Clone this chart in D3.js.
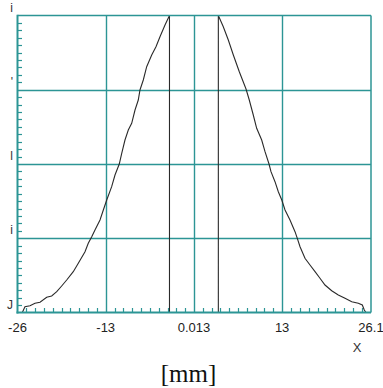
<!DOCTYPE html>
<html><head><meta charset="utf-8">
<script src="https://cdn.jsdelivr.net/npm/d3@7"></script>
<style>html,body{margin:0;padding:0;background:#fff;}svg{display:block;}</style>
</head><body>
<script>
// ---- data ----
const leftX = [-26, -25.29, -24.9, -24.16, -23.42, -22.68, -21.7, -20.96, -20.22, -19.49, -18.75, -17.78, -17.04, -16.05, -15.57, -15.06, -14.58, -13.84, -13.35, -12.85, -12.12, -11.63, -11.0, -10.64, -10.16, -9.67, -9.17, -8.68, -8.2, -7.95, -7.46, -6.96, -6.22, -5.59, -5.0, -4.26, -3.6, -3.6];
const leftY = [0, 0, 0.0195, 0.0229, 0.031, 0.0343, 0.0512, 0.0556, 0.070, 0.0892, 0.1094, 0.1374, 0.1657, 0.2047, 0.233, 0.2552, 0.2778, 0.3114, 0.3451, 0.3788, 0.4236, 0.463, 0.5, 0.536, 0.5808, 0.6145, 0.637, 0.6818, 0.7155, 0.7492, 0.7828, 0.8276, 0.867, 0.895, 0.9286, 0.968, 1.0, 0];
const rightX = [3.6, 3.6, 4.33, 5.07, 5.81, 6.69, 7.68, 8.16, 8.75, 9.25, 9.99, 10.48, 11.07, 11.36, 11.95, 12.44, 12.95, 13.43, 14.16, 14.9, 15.24, 15.64, 16.37, 17.11, 17.85, 18.58, 19.32, 20.31, 21.28, 22.27, 23.26, 24.23, 24.82, 25.11, 25.36, 26.1];
const rightY = [0, 1.0, 0.9623, 0.9175, 0.867, 0.8108, 0.7525, 0.7155, 0.665, 0.6202, 0.5808, 0.5414, 0.5, 0.4741, 0.4404, 0.4067, 0.3788, 0.3451, 0.3114, 0.2721, 0.2498, 0.2215, 0.1825, 0.16, 0.1374, 0.1152, 0.0926, 0.0734, 0.0589, 0.0478, 0.0364, 0.031, 0.0253, 0.0084, 0, 0];
const xTicks = [-26, -13, 0.013, 13, 26.1];
const xTickLabels = ["-26", "-13", "0.013", "13", "26.1"];
const yTicks = [0, 0.25, 0.5, 0.75, 1];
const yTickLabels = ["J", "i", "l", "'", "i"];
const xAxisTitle = "X";
const unitLabel = "[mm]";

// ---- layout ----
const W = 383, H = 388;
const teal = "#2c9595";
const svg = d3.select("body").append("svg").attr("width", W).attr("height", H);
const x = d3.scaleLinear().domain([-26, 26.1]).range([17.5, 371]);
const y = d3.scaleLinear().domain([0, 1]).range([312.5, 15.5]);

// grid
const g = svg.append("g");
g.selectAll("line.vg").data(xTicks.slice(1, -1)).join("line")
  .attr("x1", d => Math.round(x(d)) + 0.5).attr("x2", d => Math.round(x(d)) + 0.5)
  .attr("y1", y(1)).attr("y2", y(0)).attr("stroke", teal).attr("stroke-width", 1.4);
g.selectAll("line.hg").data(yTicks.slice(1, -1)).join("line")
  .attr("x1", x(-26)).attr("x2", x(26.1))
  .attr("y1", d => Math.round(y(d)) + 0.5).attr("y2", d => Math.round(y(d)) + 0.5)
  .attr("stroke", teal).attr("stroke-width", 1.4);

// minor ticks
const xMinor = [];
for (let i = 0; i < xTicks.length - 1; i++) for (let k = 1; k < 10; k++) xMinor.push(xTicks[i] + (xTicks[i + 1] - xTicks[i]) * k / 10);
g.selectAll("line.xm").data(xMinor).join("line")
  .attr("x1", d => Math.round(x(d)) + 0.5).attr("x2", d => Math.round(x(d)) + 0.5)
  .attr("y1", y(0)).attr("y2", y(0) - 4.5).attr("stroke", teal).attr("stroke-width", 1.2);
const yMinor = [];
for (let i = 0; i < yTicks.length - 1; i++) for (let k = 1; k < 10; k++) yMinor.push(yTicks[i] + (yTicks[i + 1] - yTicks[i]) * k / 10);
g.selectAll("line.ym").data(yMinor).join("line")
  .attr("x1", x(-26)).attr("x2", x(-26) + 4.5)
  .attr("y1", d => Math.round(y(d)) + 0.5).attr("y2", d => Math.round(y(d)) + 0.5)
  .attr("stroke", teal).attr("stroke-width", 1.2);

// curve
const line = d3.line().x(d => x(d[0])).y(d => y(d[1]));
svg.append("path").datum(leftX.map((v, i) => [v, leftY[i]]))
  .attr("d", line).attr("fill", "none").attr("stroke", "#2a2a2a").attr("stroke-width", 1.1);
svg.append("path").datum(rightX.map((v, i) => [v, rightY[i]]))
  .attr("d", line).attr("fill", "none").attr("stroke", "#2a2a2a").attr("stroke-width", 1.1);

// frame
svg.append("line").attr("x1", x(-26)).attr("x2", x(26.1)).attr("y1", y(1)).attr("y2", y(1)).attr("stroke", teal).attr("stroke-width", 1.5);
svg.append("line").attr("x1", x(26.1)).attr("x2", x(26.1)).attr("y1", y(1)).attr("y2", y(0)).attr("stroke", teal).attr("stroke-width", 1.5);
svg.append("line").attr("x1", x(-26)).attr("x2", x(-26)).attr("y1", y(1) - 0.7).attr("y2", y(0) + 1).attr("stroke", teal).attr("stroke-width", 2);
svg.append("line").attr("x1", x(-26) - 1).attr("x2", x(26.1)).attr("y1", y(0)).attr("y2", y(0)).attr("stroke", teal).attr("stroke-width", 2);

// x tick labels
svg.selectAll("text.xl").data(xTicks).join("text")
  .attr("x", d => x(d)).attr("y", 332)
  .attr("text-anchor", "middle").attr("font-family", "Liberation Sans, Arial, sans-serif")
  .attr("font-size", 13).attr("fill", "#222")
  .text((d, i) => xTickLabels[i]);

// y tick labels (clipped glyphs)
svg.selectAll("text.yl").data(yTicks).join("text")
  .attr("x", 13).attr("y", d => y(d) - 4)
  .attr("text-anchor", "end").attr("font-family", "Liberation Sans, Arial, sans-serif")
  .attr("font-size", 12).attr("fill", "#333")
  .text((d, i) => yTickLabels[i]);

svg.append("text").attr("x", 357).attr("y", 351.5).attr("text-anchor", "middle")
  .attr("font-family", "Liberation Sans, Arial, sans-serif").attr("font-size", 13).attr("fill", "#333")
  .text(xAxisTitle);

svg.append("text").attr("x", 188.5).attr("y", 382).attr("text-anchor", "middle")
  .attr("font-family", "Liberation Serif, Times New Roman, serif").attr("font-size", 25).attr("fill", "#111")
  .text(unitLabel);
</script>
</body></html>
